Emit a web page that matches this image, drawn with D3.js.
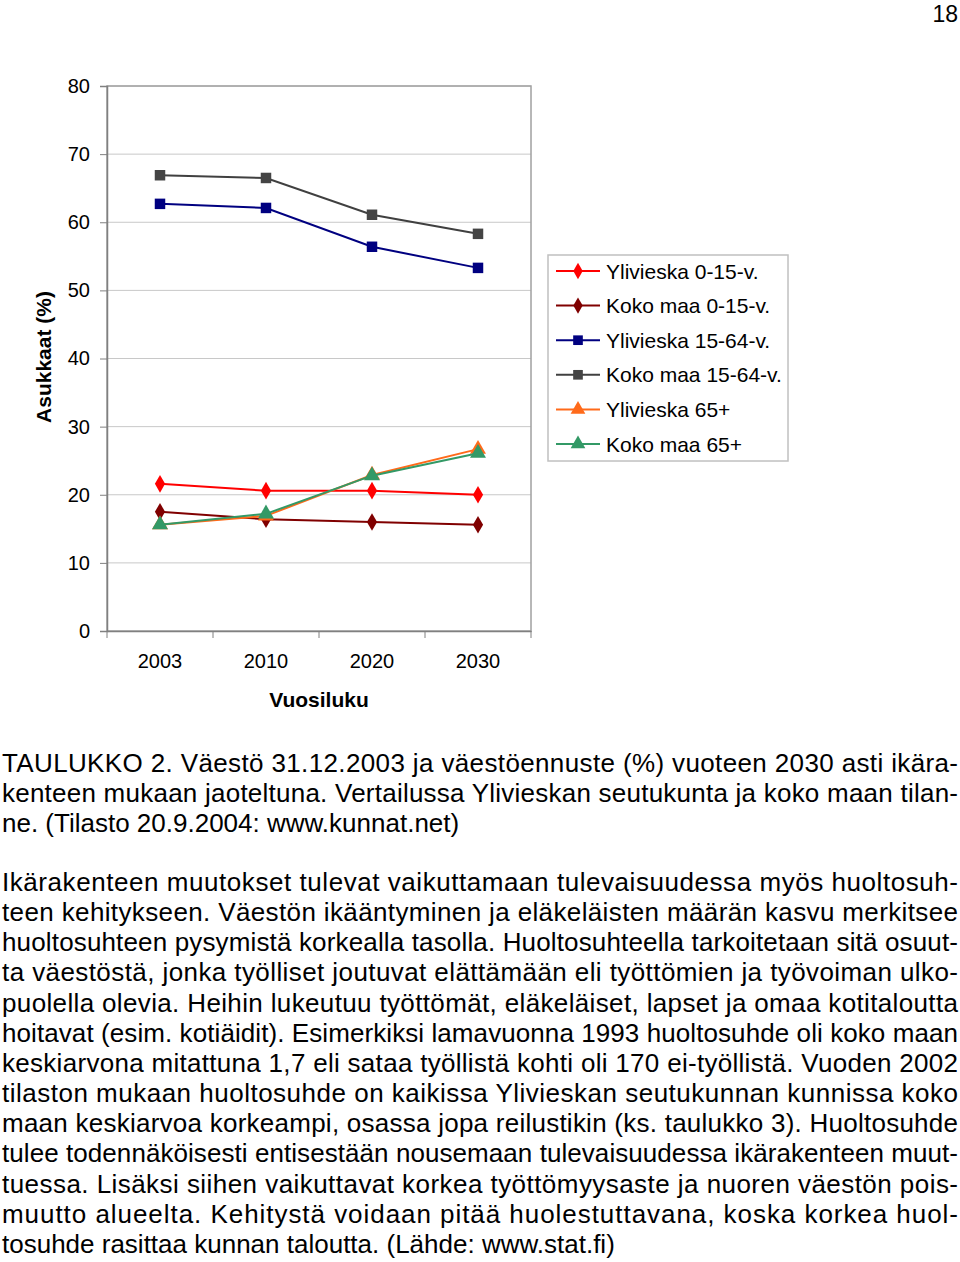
<!DOCTYPE html>
<html>
<head>
<meta charset="utf-8">
<script src="https://cdn.jsdelivr.net/npm/d3@7"></script>
<style>
  body { margin: 0; background: #fff; }
  svg { display: block; font-family: "Liberation Sans", Arial, sans-serif; }
</style>
</head>
<body>
<svg id="chart" width="960" height="1262" viewBox="0 0 960 1262"></svg>
<script>
const years = ["2003", "2010", "2020", "2030"];
const yTicks = [0, 10, 20, 30, 40, 50, 60, 70, 80];

const ylivieska0_15 = [21.6, 20.6, 20.6, 20.0];
const kokomaa0_15 = [17.5, 16.4, 16.0, 15.6];
const ylivieska15_64 = [62.7, 62.1, 56.4, 53.3];
const kokomaa15_64 = [66.9, 66.5, 61.1, 58.3];
const ylivieska65 = [15.6, 16.9, 22.9, 26.7];
const kokomaa65 = [15.6, 17.2, 22.8, 26.1];

const series = [
    { name: "Ylivieska 0-15-v.", values: ylivieska0_15, line: "#ff0000", fill: "#ff0000", shape: "diamond" },
    { name: "Koko maa 0-15-v.", values: kokomaa0_15, line: "#800000", fill: "#800000", shape: "diamond" },
    { name: "Ylivieska 15-64-v.", values: ylivieska15_64, line: "#000080", fill: "#000080", shape: "square" },
    { name: "Koko maa 15-64-v.", values: kokomaa15_64, line: "#404040", fill: "#444444", shape: "square" },
    { name: "Ylivieska 65+", values: ylivieska65, line: "#ff6a1a", fill: "#ff6a1a", shape: "triangle" },
    { name: "Koko maa 65+", values: kokomaa65, line: "#339966", fill: "#339966", shape: "triangle" }
];

const captionLines = [
    "TAULUKKO 2. Väestö 31.12.2003 ja väestöennuste (%) vuoteen 2030 asti ikära-",
    "kenteen mukaan jaoteltuna. Vertailussa Ylivieskan seutukunta ja koko maan tilan-",
    "ne. (Tilasto 20.9.2004: www.kunnat.net)"
];
const bodyLines = [
    "Ikärakenteen muutokset tulevat vaikuttamaan tulevaisuudessa myös huoltosuh-",
    "teen kehitykseen. Väestön ikääntyminen ja eläkeläisten määrän kasvu merkitsee",
    "huoltosuhteen pysymistä korkealla tasolla. Huoltosuhteella tarkoitetaan sitä osuut-",
    "ta väestöstä, jonka työlliset joutuvat elättämään eli työttömien ja työvoiman ulko-",
    "puolella olevia. Heihin lukeutuu työttömät, eläkeläiset, lapset ja omaa kotitaloutta",
    "hoitavat (esim. kotiäidit). Esimerkiksi lamavuonna 1993 huoltosuhde oli koko maan",
    "keskiarvona mitattuna 1,7 eli sataa työllistä kohti oli 170 ei-työllistä. Vuoden 2002",
    "tilaston mukaan huoltosuhde on kaikissa Ylivieskan seutukunnan kunnissa koko",
    "maan keskiarvoa korkeampi, osassa jopa reilustikin (ks. taulukko 3). Huoltosuhde",
    "tulee todennäköisesti entisestään nousemaan tulevaisuudessa ikärakenteen muut-",
    "tuessa. Lisäksi siihen vaikuttavat korkea työttömyysaste ja nuoren väestön pois-",
    "muutto alueelta. Kehitystä voidaan pitää huolestuttavana, koska korkea huol-",
    "tosuhde rasittaa kunnan taloutta. (Lähde: www.stat.fi)"
];

const svg = d3.select("#chart");

// page number
svg.append("text")
    .attr("x", 958).attr("y", 22)
    .attr("text-anchor", "end")
    .style("font-size", "23px")
    .text("18");

const plot = { left: 107, right: 531, top: 86, bottom: 631 };

const x = d3.scaleBand()
    .domain(years)
    .range([plot.left, plot.right]);

const y = d3.scaleLinear()
    .domain([0, 80])
    .range([plot.bottom, plot.top]);

// gridlines
svg.append("g")
    .selectAll("line")
    .data(yTicks.filter(d => d > 0))
    .enter()
    .append("line")
    .attr("x1", plot.left).attr("x2", plot.right)
    .attr("y1", d => y(d)).attr("y2", d => y(d))
    .attr("stroke", "#c8c8c8")
    .attr("stroke-width", 1);

// plot frame
svg.append("rect")
    .attr("x", plot.left).attr("y", plot.top)
    .attr("width", plot.right - plot.left)
    .attr("height", plot.bottom - plot.top)
    .attr("fill", "none")
    .attr("stroke", "#a0a0a0")
    .attr("stroke-width", 1.5);

// y axis
const yAxis = svg.append("g")
    .attr("transform", `translate(${plot.left},0)`)
    .call(d3.axisLeft(y).tickValues(yTicks).tickSize(7).tickPadding(10));
yAxis.select(".domain").attr("stroke", "#808080").attr("stroke-width", 1.5);
yAxis.selectAll(".tick line").attr("stroke", "#808080");
yAxis.selectAll(".tick text")
    .style("font-size", "20px")
    .style("font-family", "Liberation Sans, Arial, sans-serif")
    .attr("fill", "#000");

// x axis with ticks between categories
const xAxis = svg.append("g")
    .attr("transform", `translate(0,${plot.bottom})`)
    .call(d3.axisBottom(x).tickSize(0).tickPadding(23));
xAxis.select(".domain").attr("stroke", "#808080").attr("stroke-width", 1.5);
xAxis.selectAll(".tick text")
    .style("font-size", "20px")
    .style("font-family", "Liberation Sans, Arial, sans-serif")
    .attr("fill", "#000");
xAxis.selectAll(".boundary")
    .data(d3.range(years.length + 1))
    .enter()
    .append("line")
    .attr("x1", i => plot.left + i * x.step())
    .attr("x2", i => plot.left + i * x.step())
    .attr("y1", 0).attr("y2", 7)
    .attr("stroke", "#808080");

// axis titles
svg.append("text")
    .attr("x", (plot.left + plot.right) / 2).attr("y", 707)
    .attr("text-anchor", "middle")
    .style("font-size", "21px").style("font-weight", "bold")
    .text("Vuosiluku");

svg.append("text")
    .attr("transform", "translate(51,357) rotate(-90)")
    .attr("text-anchor", "middle")
    .style("font-size", "21px").style("font-weight", "bold")
    .text("Asukkaat (%)");

const symbolType = { diamond: d3.symbolDiamond, square: d3.symbolSquare, triangle: d3.symbolTriangle };
const symbolSize = { diamond: 90, square: 110, triangle: 110 };

const line = d3.line()
    .x((d, i) => x(years[i]) + x.bandwidth() / 2)
    .y(d => y(d));

series.forEach(s => {
    const g = svg.append("g");
    g.append("path")
        .attr("d", line(s.values))
        .attr("fill", "none")
        .attr("stroke", s.line)
        .attr("stroke-width", 2);
    g.selectAll("path.marker")
        .data(s.values)
        .enter()
        .append("path")
        .attr("class", "marker")
        .attr("transform", (d, i) => `translate(${x(years[i]) + x.bandwidth() / 2},${y(d)})`)
        .attr("d", d3.symbol().type(symbolType[s.shape]).size(symbolSize[s.shape]))
        .attr("fill", s.fill);
});

// legend
const legend = svg.append("g").attr("transform", "translate(548,255)");
legend.append("rect")
    .attr("width", 240).attr("height", 206)
    .attr("fill", "#fff")
    .attr("stroke", "#c0c0c0")
    .attr("stroke-width", 1.5);

const item = legend.selectAll(".item")
    .data(series)
    .enter()
    .append("g")
    .attr("class", "item")
    .attr("transform", (d, i) => `translate(0,${16 + i * 34.6})`);

item.append("line")
    .attr("x1", 8).attr("x2", 52)
    .attr("stroke", d => d.line)
    .attr("stroke-width", 2);
item.append("path")
    .attr("transform", "translate(30,0)")
    .attr("d", d => d3.symbol().type(symbolType[d.shape]).size(symbolSize[d.shape] * 0.85)())
    .attr("fill", d => d.fill);
item.append("text")
    .attr("x", 58).attr("y", 7.5)
    .style("font-size", "21px")
    .text(d => d.name);

// text below the chart, justified lines
function writeLines(lines, startY, lead) {
    lines.forEach((t, i) => {
        const last = i === lines.length - 1;
        const txt = svg.append("text")
            .attr("x", 2)
            .attr("y", startY + i * lead)
            .style("font-size", "26px")
            .attr("fill", "#000")
            .text(t);
        if (!last) {
            txt.attr("textLength", 956).attr("lengthAdjust", "spacing");
        }
    });
}

writeLines(captionLines, 772, 30);
writeLines(bodyLines, 891, 30.15);
</script>
</body>
</html>
